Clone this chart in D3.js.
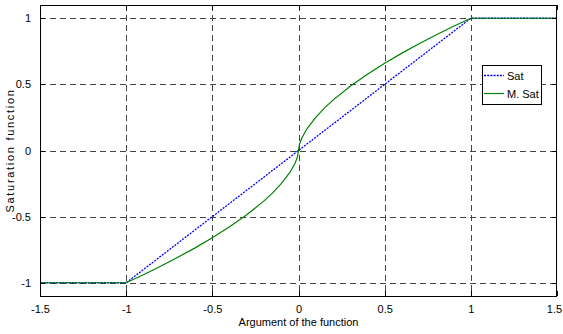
<!DOCTYPE html>
<html>
<head>
<meta charset="utf-8">
<script src="https://cdn.jsdelivr.net/npm/d3@7"></script>
<style>
  html, body { margin: 0; padding: 0; background: #fff; }
  svg { display: block; font-family: "Liberation Sans", Arial, sans-serif; }
</style>
</head>
<body>
<svg id="chart" width="563" height="334"></svg>
<script>
// Tick positions for both axes
const xTicks = [-1.5, -1, -0.5, 0, 0.5, 1, 1.5];
const yTicks = [-1, -0.5, 0, 0.5, 1];

// Standard saturation: clamp to [-1, 1]
const satX = [-1.5, -1, 1, 1.5];
const satY = [-1, -1, 1, 1];

// Modified saturation: steeper near the origin, same limits
const msatX = [-1.5, -1, -0.9, -0.8, -0.7, -0.6, -0.5, -0.4, -0.3, -0.2, -0.15, -0.1, -0.05, -0.02, -0.01, -0.005, 0,
               0.005, 0.01, 0.02, 0.05, 0.1, 0.15, 0.2, 0.3, 0.4, 0.5, 0.6, 0.7, 0.8, 0.9, 1, 1.5];
const msatY = [-1, -1, -0.939, -0.875, -0.807, -0.736, -0.660, -0.577, -0.486, -0.381, -0.320, -0.251, -0.166, -0.096, -0.063, -0.042, 0,
               0.042, 0.063, 0.096, 0.166, 0.251, 0.320, 0.381, 0.486, 0.577, 0.660, 0.736, 0.807, 0.875, 0.939, 1, 1];

const legendLabels = ["Sat", "M. Sat"];
const colors = ["#0000ff", "#008000"];

const svg = d3.select("#chart");
const plotLeft = 40, plotRight = 557, plotTop = 5, plotBottom = 296;

const x = d3.scaleLinear().domain([-1.5, 1.5]).range([plotLeft, plotRight]);
const y = d3.scaleLinear().domain([-1.1, 1.1]).range([plotBottom, plotTop]);

// Dashed grid
const grid = svg.append("g").attr("stroke", "#444").attr("stroke-width", 1)
  .attr("stroke-dasharray", "6,4").attr("shape-rendering", "crispEdges");
grid.selectAll("line.gx").data(xTicks.filter(t => t > -1.5 && t < 1.5)).enter().append("line")
  .attr("x1", d => Math.round(x(d)) + 0.5).attr("x2", d => Math.round(x(d)) + 0.5)
  .attr("y1", plotTop).attr("y2", plotBottom);
grid.selectAll("line.gy").data(yTicks).enter().append("line")
  .attr("y1", d => Math.round(y(d)) + 0.5).attr("y2", d => Math.round(y(d)) + 0.5)
  .attr("x1", plotLeft).attr("x2", plotRight);

// Curves
svg.append("clipPath").attr("id", "plotArea").append("rect")
  .attr("x", plotLeft).attr("y", plotTop).attr("width", plotRight - plotLeft).attr("height", plotBottom - plotTop);
const line = d3.line().x(d => x(d[0])).y(d => y(d[1]));
const plot = svg.append("g").attr("clip-path", "url(#plotArea)").attr("fill", "none");
plot.append("path").datum(d3.zip(satX, satY)).attr("d", line)
  .attr("stroke", colors[0]).attr("stroke-width", 1.3).attr("stroke-dasharray", "2,1.2");
plot.append("path").datum(d3.zip(msatX, msatY)).attr("d", line)
  .attr("stroke", colors[1]).attr("stroke-width", 1.2);

// Axes with inward ticks on all four sides
const fmt = d => String(d);
const axB = d3.axisBottom(x).tickValues(xTicks).tickSizeInner(-5).tickSizeOuter(0).tickPadding(9).tickFormat(fmt);
const axT = d3.axisTop(x).tickValues(xTicks).tickSizeInner(-5).tickSizeOuter(0).tickFormat("");
const axL = d3.axisLeft(y).tickValues(yTicks).tickSizeInner(-5).tickSizeOuter(0).tickPadding(9).tickFormat(fmt);
const axR = d3.axisRight(y).tickValues(yTicks).tickSizeInner(-5).tickSizeOuter(0).tickFormat("");

function style(g) {
  g.select(".domain").remove();
  g.selectAll("line").attr("stroke", "#000").attr("shape-rendering", "crispEdges");
  g.selectAll("text").attr("fill", "#000").attr("font-size", "11px");
}
const gB = svg.append("g").attr("transform", `translate(0,${plotBottom})`).call(axB).call(style);
// keep the last x label inside the canvas
gB.selectAll(".tick text").filter(d => d === 1.5).attr("dx", "-3");
svg.append("g").attr("transform", `translate(0,${plotTop})`).call(axT).call(style);
svg.append("g").attr("transform", `translate(${plotLeft},0)`).call(axL).call(style);
svg.append("g").attr("transform", `translate(${plotRight},0)`).call(axR).call(style);

// Axes box
svg.append("rect").attr("x", plotLeft + 0.5).attr("y", plotTop + 0.5)
  .attr("width", plotRight - plotLeft - 1).attr("height", plotBottom - plotTop)
  .attr("fill", "none").attr("stroke", "#000").attr("stroke-width", 1).attr("shape-rendering", "crispEdges");

// Axis titles
svg.append("text").attr("x", (plotLeft + plotRight) / 2).attr("y", 326)
  .attr("text-anchor", "middle").attr("font-size", "11px").attr("fill", "#000")
  .text("Argument of the function");
svg.append("text").attr("transform", `translate(14,${y(0)}) rotate(-90)`)
  .attr("text-anchor", "middle").attr("font-size", "11px").attr("fill", "#000")
  .attr("letter-spacing", "1.7px")
  .text("Saturation function");

// Legend
const lg = svg.append("g");
lg.append("rect").attr("x", 482.5).attr("y", 65.5).attr("width", 59).attr("height", 39)
  .attr("fill", "#fff").attr("stroke", "#000").attr("shape-rendering", "crispEdges");
legendLabels.forEach((lab, i) => {
  const ly = 75.5 + i * 18;
  lg.append("line").attr("x1", 484).attr("x2", 504).attr("y1", ly).attr("y2", ly)
    .attr("stroke", colors[i]).attr("stroke-width", i === 0 ? 1.3 : 1.2)
    .attr("stroke-dasharray", i === 0 ? "2,1.2" : null);
  lg.append("text").attr("x", 507).attr("y", ly + 4).attr("font-size", "11px").attr("fill", "#000").text(lab);
});
</script>
</body>
</html>
